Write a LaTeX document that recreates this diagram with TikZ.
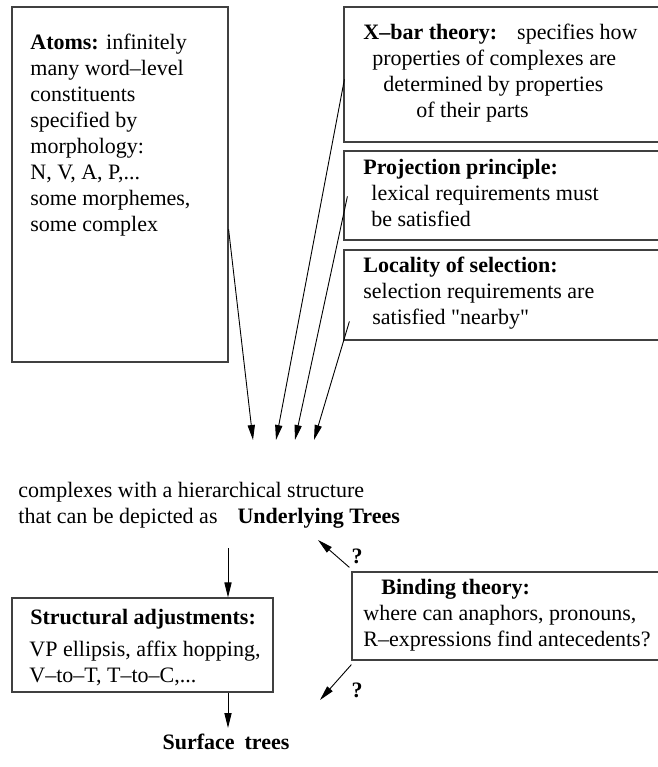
\documentclass[tikz,border=0pt]{standalone}
\usepackage{fontspec}
\setmainfont{Liberation Serif}
\usetikzlibrary{arrows.meta,calc,fit}
\begin{document}
\begin{tikzpicture}[
    x=0.5pt, y=-0.5pt,
    >={Triangle[length=7.5pt,width=3.6pt]},
    box/.style={draw=black!75, line width=0.6pt, inner sep=0pt},
    txt/.style={anchor=north west, inner sep=0pt, align=left, font=\fontsize{11}{13}\selectfont},
    flow/.style={->, line width=0.45pt},
    qmark/.style={inner sep=0pt, font=\fontsize{11}{13}\selectfont\bfseries}
  ]
  \useasboundingbox (0,0) rectangle (658,767);
  \clip (0,0) rectangle (658,767);

  % boxes
  \node[box, fit={(12,7) (228,362)}]  (atoms) {};
  \node[box, fit={(344,7) (670,142)}] (xbar) {};
  \node[box, fit={(344,151) (670,240)}] (proj) {};
  \node[box, fit={(344,250) (670,340)}] (locsel) {};
  \node[box, fit={(12,598) (273,692)}] (struct) {};
  \node[box, fit={(352,572) (670,660)}] (bind) {};

  % texts
  \node[txt] (atomstxt) at (30,34) {\textbf{Atoms:} infinitely\\ many word--level\\ constituents\\ specified by\\ morphology:\\ N, V, A, P,...\\ some morphemes,\\ some complex};
  \node[txt] (xbartxt) at (363,24) {\textbf{X--bar theory:}\hspace{10pt}specifies how\\ \hspace*{4.5pt}properties of complexes are\\ \hspace*{10pt}determined by properties\\ \hspace*{26.5pt}of their parts};
  \node[txt] (projtxt) at (363,159) {\textbf{Projection principle:}\\ \hspace*{4pt}lexical requirements must\\ \hspace*{4pt}be satisfied};
  \node[txt] (loctxt) at (363,257) {\textbf{Locality of selection:}\\ selection requirements are\\ \hspace*{4.5pt}satisfied \textquotedbl nearby\textquotedbl};
  \node[txt] (under) at (18,482) {complexes with a hierarchical structure\\ that can be depicted as\hspace{10pt}\textbf{Underlying Trees}};
  \node[txt] (structhd) at (30,609) {\textbf{Structural adjustments:}};
  \node[txt] (structtxt) at (29,641) {VP ellipsis, affix hopping,\\ V--to--T, T--to--C,...};
  \node[txt] (bindtxt) at (363,579) {\hspace*{9pt}\textbf{Binding theory:}\\ where can anaphors, pronouns,\\ R--expressions find antecedents?};
  \node[txt, anchor=center, font=\fontsize{11}{13}\selectfont\bfseries] (surface) at (226,742) {Surface\hspace{5pt}trees};
  \node[qmark] (q1) at (357,556) {?};
  \node[qmark] (q2) at (357,690) {?};

  % arrow ends
  \coordinate (tipa) at (253,440);
  \coordinate (tipb) at (276,440);
  \coordinate (tipc) at (295,440);
  \coordinate (tipd) at (314,440);
  \coordinate (tipup) at (318,540);
  \coordinate (tipdown) at (320,700);

  \draw[flow] ($(atoms.north east)+(0,223)$) -- (tipa);
  \draw[flow] ($(xbar.north west)+(1,73)$) -- (tipb);
  \draw[flow] ($(proj.north west)+(4,46)$) -- (tipc);
  \draw[flow] ($(locsel.north west)+(6,72)$) -- (tipd);
  \draw[flow] (228,548) -- (struct.north -| 228,0);
  \draw[flow] (struct.south -| 228,0) -- (228,728);
  \draw[flow] ($(bind.north west)+(-2,-4)$) -- (tipup);
  \draw[flow] ($(bind.south west)+(0,4)$) -- (tipdown);
\end{tikzpicture}
\end{document}
